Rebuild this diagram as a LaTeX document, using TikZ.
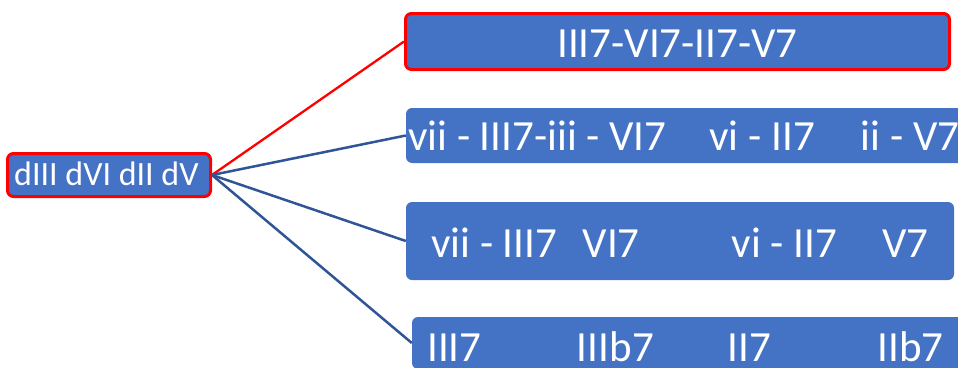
\documentclass[tikz,border=0pt]{standalone}
\usepackage{fontspec}
\setmainfont{Carlito}
\definecolor{boxblue}{HTML}{4472C4}
\definecolor{lineblue}{HTML}{2F5597}
\definecolor{hotred}{HTML}{FF0000}
\begin{document}
\begin{tikzpicture}[x=1pt,y=-1pt,
  panel/.style={fill=boxblue, rounded corners=6pt, inner sep=0pt},
  redpanel/.style={panel, draw=hotred, line width=3pt},
  lbl/.style={text=white, inner sep=0pt, anchor=base west, text depth=0pt, font=\fontsize{43}{50}\selectfont},
  rootlbl/.style={lbl, font=\fontsize{34}{40}\selectfont},
  redlink/.style={draw=hotred, line width=2.3pt},
  bluelink/.style={draw=lineblue, line width=2.5pt}]
\useasboundingbox (0,0) rectangle (958,367);
\clip (0,0) rectangle (958,367);
% boxes
\node[redpanel, minimum width=203pt, minimum height=43pt] (root) at (109,175) {};
\node[redpanel, minimum width=544pt, minimum height=56pt] (b1) at (677.5,41.5) {};
\node[panel, minimum width=569pt, minimum height=55pt] (b2) at (690.5,135.5) {};
\node[panel, minimum width=548pt, minimum height=78pt] (b3) at (680,241) {};
\node[panel, minimum width=563pt, minimum height=52pt] (b4) at (693.5,343) {};
% connectors
\draw[redlink] (root.east) -- (b1.west);
\draw[bluelink] (root.east) -- (b2.west);
\draw[bluelink] (root.east) -- (b3.west);
\draw[bluelink] (root.east) -- (b4.west);
% texts
\node[rootlbl] (t0) at (14,185) {dIII dVI dII dV};
\node[lbl] (t1) at (557,57.5) {III7-VI7-II7-V7};
\node[lbl] (t2) at (408,150.7) {vii - III7-iii - VI7\hspace{43pt}vi - II7\hspace{46pt}ii - V7};
\node[lbl] (t3) at (431,257.5) {vii - III7\hspace{25.5pt}VI7\hspace{92pt}vi - II7\hspace{45pt}V7};
\node[lbl] (t4) at (427,361) {III7\hspace{95.5pt}IIIb7\hspace{73.5pt}II7\hspace{106.5pt}IIb7};
\end{tikzpicture}
\end{document}
